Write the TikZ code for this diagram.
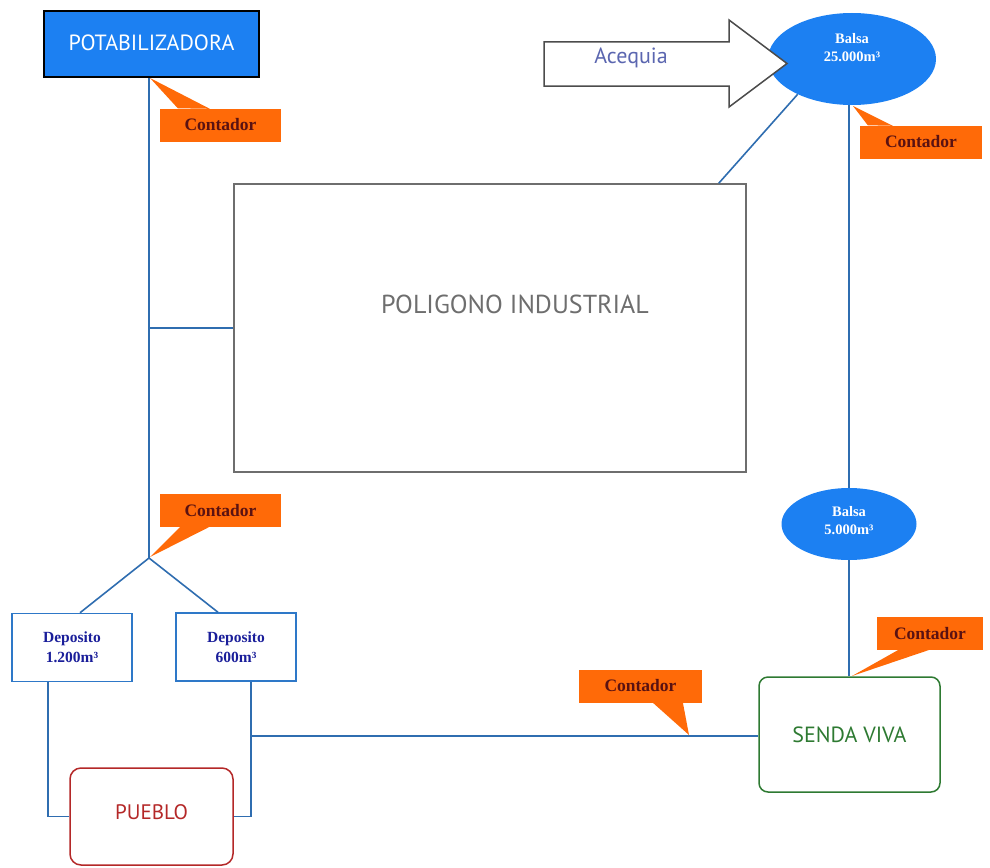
\documentclass[tikz,border=0pt]{standalone}
\usepackage{fontspec}
\setmainfont{PT Sans}
\newfontfamily\serifb{Liberation Serif}
\usetikzlibrary{shapes.geometric,calc}
\definecolor{potblue}{HTML}{1C80F2}
\definecolor{pipeblue}{HTML}{2F6DB0}
\definecolor{callorange}{HTML}{FF6A08}
\definecolor{callred}{HTML}{5A1212}
\definecolor{depblue}{HTML}{1A1E9A}
\definecolor{boxblue}{HTML}{2E78C8}
\definecolor{polgray}{HTML}{6E6E6E}
\definecolor{sendgreen}{HTML}{2E7A32}
\definecolor{puered}{HTML}{B42828}
\definecolor{aceblue}{HTML}{5B66B0}
\begin{document}
\begin{tikzpicture}[x=1pt,y=-1pt,
  pipe/.style={draw=pipeblue,line width=1.6pt},
  callout/.style={fill=callorange,text=callred,font=\serifb\bfseries\fontsize{17.5}{17.5}\selectfont,inner sep=0pt,minimum height=33pt},
  wedge/.style={fill=callorange},
  balsa/.style={ellipse,fill=potblue,inner sep=0pt},
  balsatxt/.style={text=white,font=\serifb\bfseries\fontsize{14.5}{18}\selectfont,align=center,inner sep=0pt},
  deposito/.style={draw=boxblue,line width=1.5pt,fill=white,text=depblue,font=\serifb\bfseries\fontsize{15.5}{20}\selectfont,align=center,minimum width=120pt,minimum height=68pt,inner sep=0pt}
]
\useasboundingbox (0,0) rectangle (990,867);

% main boxes
\node[draw=black,line width=1.5pt,fill=potblue,text=white,minimum width=215pt,minimum height=66pt,inner sep=0pt,font=\fontsize{22}{22}\selectfont] (pot) at (151.5,44) {\raisebox{3pt}{POTABILIZADORA}};
\node[draw=polgray,line width=1.5pt,minimum width=512pt,minimum height=288pt,inner sep=0pt] (pol) at (490,328) {};
\node[text=polgray,font=\fontsize{26}{26}\selectfont] (poltxt) at (515,304) {POLIGONO INDUSTRIAL};
\node[balsa,minimum width=168pt,minimum height=92pt] (b1) at (852,59) {};
\node[balsatxt] (b1txt) at (852,48) {Balsa\\25.000m³};
\node[balsa,minimum width=135pt,minimum height=72pt] (b2) at (849,524) {};
\node[balsatxt] (b2txt) at (849,521) {Balsa\\5.000m³};
\node[draw=sendgreen,line width=1.5pt,rounded corners=9pt,minimum width=181pt,minimum height=115pt,inner sep=0pt,text=sendgreen,font=\fontsize{22}{22}\selectfont] (senda) at (849.5,734.5) {SENDA VIVA};
\node[deposito] (dep1) at (72,647.5) {Deposito\\1.200m³};
\node[deposito] (dep2) at (236,647) {Deposito\\600m³};
\node[draw=puered,line width=1.5pt,rounded corners=11pt,minimum width=163pt,minimum height=97pt,inner sep=0pt,text=puered,font=\fontsize{21}{21}\selectfont] (pueblo) at (151.5,816.5) {\raisebox{8pt}{PUEBLO}};

% acequia arrow
\draw[draw=black!70,line width=1.5pt,fill=white,line join=miter] (544,42) -- (729,42) -- (729,20) -- (787,63.5) -- (729,107) -- (729,86) -- (544,86) -- cycle;
\node[text=aceblue,font=\fontsize{22}{22}\selectfont] (ace) at (631,58) {Acequia};

% junctions
\coordinate (j1) at (149,558);
\coordinate (j2) at (251,736);

% pipes
\draw[pipe] (pot.south -| j1) -- (j1);
\draw[pipe] (j1 |- pol.west) -- (pol.west);
\draw[pipe] (j1) -- ($(dep1.north)+(8,0)$);
\draw[pipe] (j1) -- ($(dep2.north)+(-18,0)$);
\draw[pipe] ($(dep1.south)+(-24,0)$) |- (pueblo.west);
\draw[pipe] ($(dep2.south)+(15,0)$) |- (pueblo.east);
\draw[pipe] (j2) -- (j2 -| senda.west);
\draw[pipe] ($(pol.north east)+(-28,0)$) -- (b1.213);
\draw[pipe] (b1.south -| b2.north) -- (b2.north);
\draw[pipe] (b2.south) -- (b2.south |- senda.north);

% callouts
\node[callout,minimum width=121pt] (c1) at (220.5,125) {Contador};
\node[callout,minimum width=122pt] (c2) at (921,142) {Contador};
\node[callout,minimum width=106pt] (c3) at (930,633.5) {Contador};
\node[callout,minimum width=123pt] (c4) at (640.5,686) {Contador};
\node[callout,minimum width=121pt] (c5) at (220.5,510.5) {Contador};

\coordinate (t1) at (150,78);
\coordinate (t2) at (853,106);
\coordinate (t3) at (852,676);
\coordinate (t4) at (689,735);
\coordinate (t5) at (150,557);

\fill[wedge] (t1) -- ($(c1.north west)+(18,0)$) -- ($(c1.north west)+(50,0.5)$) -- cycle;
\fill[wedge] (t2) -- ($(c2.north west)+(8,0)$) -- ($(c2.north west)+(33,0.5)$) -- cycle;
\fill[wedge] (t3) -- ($(c3.south west)+(21,0)$) -- ($(c3.south west)+(53,-0.5)$) -- cycle;
\fill[wedge] (t4) -- ($(c4.south west)+(74,0)$) -- ($(c4.south west)+(104,-0.5)$) -- cycle;
\fill[wedge] (t5) -- ($(c5.south west)+(20,0)$) -- ($(c5.south west)+(50,-0.5)$) -- cycle;
\end{tikzpicture}
\end{document}
